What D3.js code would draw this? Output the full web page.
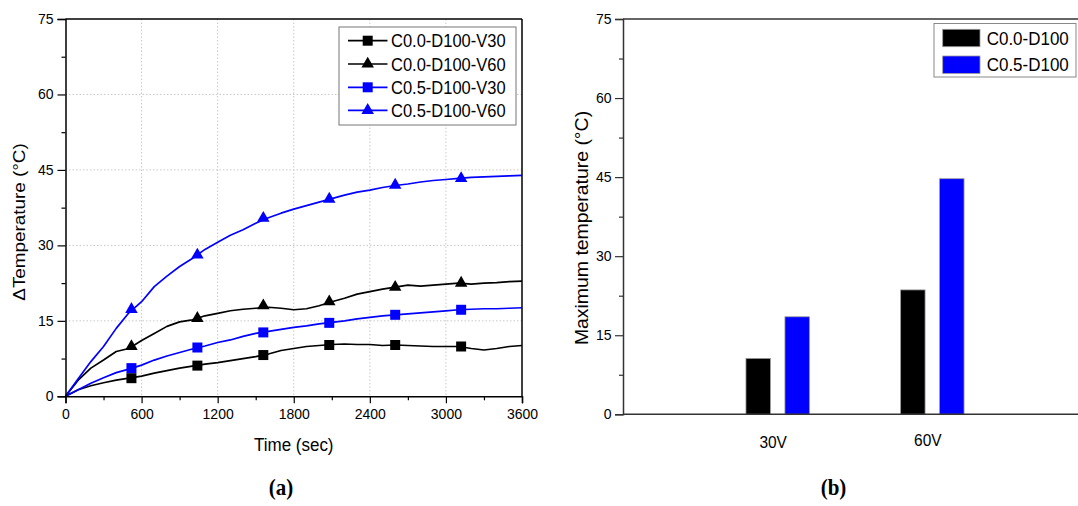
<!DOCTYPE html>
<html>
<head>
<meta charset="utf-8">
<script src="https://cdn.jsdelivr.net/npm/d3@7"></script>
<style>
  html, body { margin: 0; padding: 0; background: #fff; }
  svg { display: block; font-family: "Liberation Sans", Arial, sans-serif; }
</style>
</head>
<body>
<svg id="chart" width="1078" height="506"></svg>
<script>
// ---------- Data: panel (a) ----------
const times = [0,100,200,300,400,500,600,700,800,900,1000,1100,1200,1300,1400,1500,1600,1700,1800,1900,2000,2100,2200,2300,2400,2500,2600,2700,2800,2900,3000,3100,3200,3300,3400,3500,3600];
const c00V30 = [0,1.3,2.1,2.7,3.2,3.6,4.0,4.6,5.1,5.6,6.0,6.4,6.7,7.1,7.5,7.9,8.4,9.1,9.5,9.9,10.1,10.3,10.4,10.3,10.3,10.1,10.2,10.1,10.0,9.9,9.9,9.9,9.5,9.2,9.5,9.9,10.1];
const c00V60 = [0,3.2,5.6,7.2,8.9,9.5,11.1,12.5,13.9,14.8,15.2,16.0,16.5,17.0,17.3,17.5,17.7,17.5,17.2,17.4,18.0,18.8,19.5,20.3,20.8,21.3,21.7,22.1,21.9,22.1,22.3,22.5,22.3,22.5,22.6,22.8,22.9];
const c05V30 = [0,1.3,2.6,3.7,4.7,5.4,6.2,7.2,8.0,8.7,9.4,10.0,10.7,11.2,11.9,12.5,12.9,13.3,13.7,14.0,14.4,14.7,15.0,15.4,15.7,16.0,16.2,16.4,16.6,16.8,17.0,17.2,17.3,17.4,17.4,17.5,17.6];
const c05V60 = [0,3.5,6.9,9.9,13.5,16.6,18.8,21.8,23.9,25.8,27.4,29.2,30.6,32.0,33.1,34.4,35.5,36.4,37.2,37.9,38.6,39.3,40.0,40.6,41.0,41.5,41.9,42.2,42.6,42.9,43.1,43.3,43.5,43.6,43.7,43.8,43.9];
const markerTimes = [520,1040,1560,2080,2600,3120];
const mk00V30 = [3.6,6.1,8.2,10.2,10.2,9.9];
const mk00V60 = [9.9,15.5,18.0,18.8,21.7,22.5];
const mk05V30 = [5.6,9.7,12.7,14.6,16.2,17.2];
const mk05V60 = [17.3,28.1,35.4,39.2,42.0,43.3];
const seriesNames = ["C0.0-D100-V30","C0.0-D100-V60","C0.5-D100-V30","C0.5-D100-V60"];
const seriesColors = ["#000000","#000000","#0000ff","#0000ff"];
const seriesMarkers = ["square","triangle","square","triangle"];
const xTicksA = [0,600,1200,1800,2400,3000,3600];
const yTicks = [0,15,30,45,60,75];

// ---------- Data: panel (b) ----------
const voltages = ["30V","60V"];
const barC00 = [10.6,23.6];
const barC05 = [18.5,44.7];
const barNames = ["C0.0-D100","C0.5-D100"];
const barColors = ["#000000","#0000ff"];

const svg = d3.select("#chart");
svg.append("rect").attr("width",1078).attr("height",506).attr("fill","#fff");
const K = 1.11; // vertical stretch of the original picture's text

function stext(g, x, y, str, size, anchor, opts) {
  opts = opts || {};
  const t = g.append("text")
    .attr("transform", `translate(${x},${y}) ` + (opts.rotate ? `rotate(-90) scale(${K},1)` : `scale(1,${K})`))
    .attr("font-size", size)
    .attr("text-anchor", anchor || "start")
    .attr("fill", opts.fill || "#000")
    .text(str);
  if (opts.family) t.attr("font-family", opts.family);
  if (opts.weight) t.attr("font-weight", opts.weight);
  if (opts.dy) t.attr("dy", opts.dy);
  return t;
}

// ================= Panel (a) =================
const A = {left: 65.5, right: 522, top: 19, bottom: 396.3};
const xA = d3.scaleLinear().domain([0,3600]).range([A.left, A.right]);
const yA = d3.scaleLinear().domain([0,75]).range([A.bottom, A.top]);
const gA = svg.append("g");

// grid
gA.append("g").selectAll("line").data(xTicksA.slice(1,-1)).join("line")
  .attr("x1", d=>xA(d)).attr("x2", d=>xA(d)).attr("y1", A.top).attr("y2", A.bottom)
  .attr("stroke","#c8c8c8").attr("stroke-width",1).attr("stroke-dasharray","1.5,2");
gA.append("g").selectAll("line").data(yTicks.slice(1,-1)).join("line")
  .attr("y1", d=>yA(d)).attr("y2", d=>yA(d)).attr("x1", A.left).attr("x2", A.right)
  .attr("stroke","#c8c8c8").attr("stroke-width",1).attr("stroke-dasharray","1.5,2");

// series lines
const seriesVals = [c00V30, c00V60, c05V30, c05V60];
const markerVals = [mk00V30, mk00V60, mk05V30, mk05V60];
const line = d3.line().x((d,i)=>xA(times[i])).y(d=>yA(d));
seriesVals.forEach((vals, si) => {
  gA.append("path").datum(vals).attr("d", line)
    .attr("fill","none").attr("stroke", seriesColors[si]).attr("stroke-width",1.7)
    .attr("stroke-linejoin","round");
});
const sqSym = d3.symbol().type(d3.symbolSquare).size(100);
const triSym = d3.symbol().type(d3.symbolTriangle).size(68);
seriesVals.forEach((vals, si) => {
  gA.append("g").selectAll("path").data(markerVals[si]).join("path")
    .attr("transform", (d,i)=>`translate(${xA(markerTimes[i])},${yA(d)})`)
    .attr("d", seriesMarkers[si] === "square" ? sqSym : triSym)
    .attr("fill", seriesColors[si]);
});

// axes
const axFont = 14;
gA.append("g").attr("transform",`translate(0,${A.bottom})`)
  .call(d3.axisBottom(xA).tickValues(xTicksA).tickFormat(d3.format("d")).tickSize(7).tickPadding(6));
gA.append("g").attr("transform",`translate(0,${A.bottom})`)
  .call(d3.axisBottom(xA).tickValues(d3.range(300,3600,600)).tickFormat("").tickSize(4))
  .select(".domain").remove();
gA.append("g").attr("transform",`translate(${A.left},0)`)
  .call(d3.axisLeft(yA).tickValues(yTicks).tickSize(8).tickPadding(4));
gA.append("g").attr("transform",`translate(${A.left},0)`)
  .call(d3.axisLeft(yA).tickValues(d3.range(7.5,75,15)).tickFormat("").tickSize(4))
  .select(".domain").remove();
gA.selectAll(".domain").attr("stroke","#000").attr("stroke-width",1.5);
gA.selectAll(".tick line").attr("stroke","#000").attr("stroke-width",1.2);
gA.selectAll(".tick text").attr("font-size",axFont).attr("fill","#000")
  .attr("font-family",'"Liberation Sans", Arial, sans-serif');
// frame
gA.append("line").attr("x1",A.left).attr("x2",A.right).attr("y1",A.top).attr("y2",A.top)
  .attr("stroke","#000").attr("stroke-width",1.5);
gA.append("line").attr("x1",A.right).attr("x2",A.right).attr("y1",A.top).attr("y2",A.bottom)
  .attr("stroke","#000").attr("stroke-width",1.5);

// titles
stext(gA, (A.left + A.right)/2, 451, "Time (sec)", 17, "middle");
stext(gA, 25, 222, "ΔTemperature (°C)", 17, "middle", {rotate:true});
stext(svg, 281, 495, "(a)", 21, "middle", {family:'"Liberation Serif", "DejaVu Serif", serif', weight:"bold", fill:"#000"});

// legend (a)
const legA = gA.append("g");
legA.append("rect").attr("x",339).attr("y",27).attr("width",177).attr("height",98)
  .attr("fill","#fff").attr("stroke","#777").attr("stroke-width",1);
const rowY = [40.7, 64, 87.3, 110.3];
seriesNames.forEach((name, i) => {
  legA.append("line").attr("x1",348).attr("x2",387.5).attr("y1",rowY[i]).attr("y2",rowY[i])
    .attr("stroke",seriesColors[i]).attr("stroke-width",1.7);
  legA.append("path").attr("transform",`translate(367.7,${rowY[i]})`)
    .attr("d", seriesMarkers[i] === "square" ? sqSym : triSym).attr("fill",seriesColors[i]);
  stext(legA, 391, rowY[i], name, 16.5, "start", {dy:"0.36em"});
});

// ================= Panel (b) =================
const B = {left: 623, right: 1087, top: 19, bottom: 414.3};
const xB = d3.scaleLinear().domain([0,3]).range([B.left, B.right]);
const yB = d3.scaleLinear().domain([0,75]).range([B.bottom, B.top]);
const gB = svg.append("g");
const barW = 0.158, barOff = 0.126;

const barSeries = [barC00, barC05];
barSeries.forEach((vals, si) => {
  gB.append("g").selectAll("rect").data(vals).join("rect")
    .attr("x", (d,i)=> xB(i+1 + (si===0 ? -barOff : barOff) - barW/2))
    .attr("width", xB(barW) - xB(0))
    .attr("y", d=>yB(d))
    .attr("height", d=>yB(0)-yB(d))
    .attr("fill", barColors[si]).attr("stroke","#9a9a9a").attr("stroke-width",0.8);
});

gB.append("g").attr("transform",`translate(${B.left},0)`)
  .call(d3.axisLeft(yB).tickValues(yTicks).tickSize(8).tickPadding(3.5));
gB.append("g").attr("transform",`translate(${B.left},0)`)
  .call(d3.axisLeft(yB).tickValues(d3.range(7.5,75,15)).tickFormat("").tickSize(4))
  .select(".domain").remove();
gB.selectAll(".domain").attr("stroke","#333").attr("stroke-width",1.5);
gB.selectAll(".tick line").attr("stroke","#333").attr("stroke-width",1.2);
gB.selectAll(".tick text").attr("font-size",axFont).attr("fill","#000")
  .attr("font-family",'"Liberation Sans", Arial, sans-serif');
gB.append("line").attr("x1",B.left).attr("x2",B.right).attr("y1",B.bottom).attr("y2",B.bottom)
  .attr("stroke","#333").attr("stroke-width",1.5);
gB.append("line").attr("x1",B.left).attr("x2",B.right).attr("y1",B.top).attr("y2",B.top)
  .attr("stroke","#333").attr("stroke-width",1.5);

const catBase = [448, 446];
voltages.forEach((v,i) => {
  stext(gB, xB(i+1) - 4.5, catBase[i], v, 15.5, "middle");
});
stext(gB, 588, 228, "Maximum temperature (°C)", 17.5, "middle", {rotate:true});
stext(svg, 833.5, 495, "(b)", 21, "middle", {family:'"Liberation Serif", "DejaVu Serif", serif', weight:"bold", fill:"#000"});

// legend (b)
const legB = gB.append("g");
legB.append("rect").attr("x",934).attr("y",23.5).attr("width",142).attr("height",53.5)
  .attr("fill","#fff").attr("stroke","#888").attr("stroke-width",1);
const legBY = [29.3, 56];
barNames.forEach((name,i) => {
  legB.append("rect").attr("x",942.7).attr("y",legBY[i]).attr("width",37.3).attr("height",17.4)
    .attr("fill",barColors[i]).attr("stroke","#9a9a9a").attr("stroke-width",0.8);
  stext(legB, 986.7, legBY[i] + 8.7, name, 17, "start", {dy:"0.36em"});
});
</script>
</body>
</html>
